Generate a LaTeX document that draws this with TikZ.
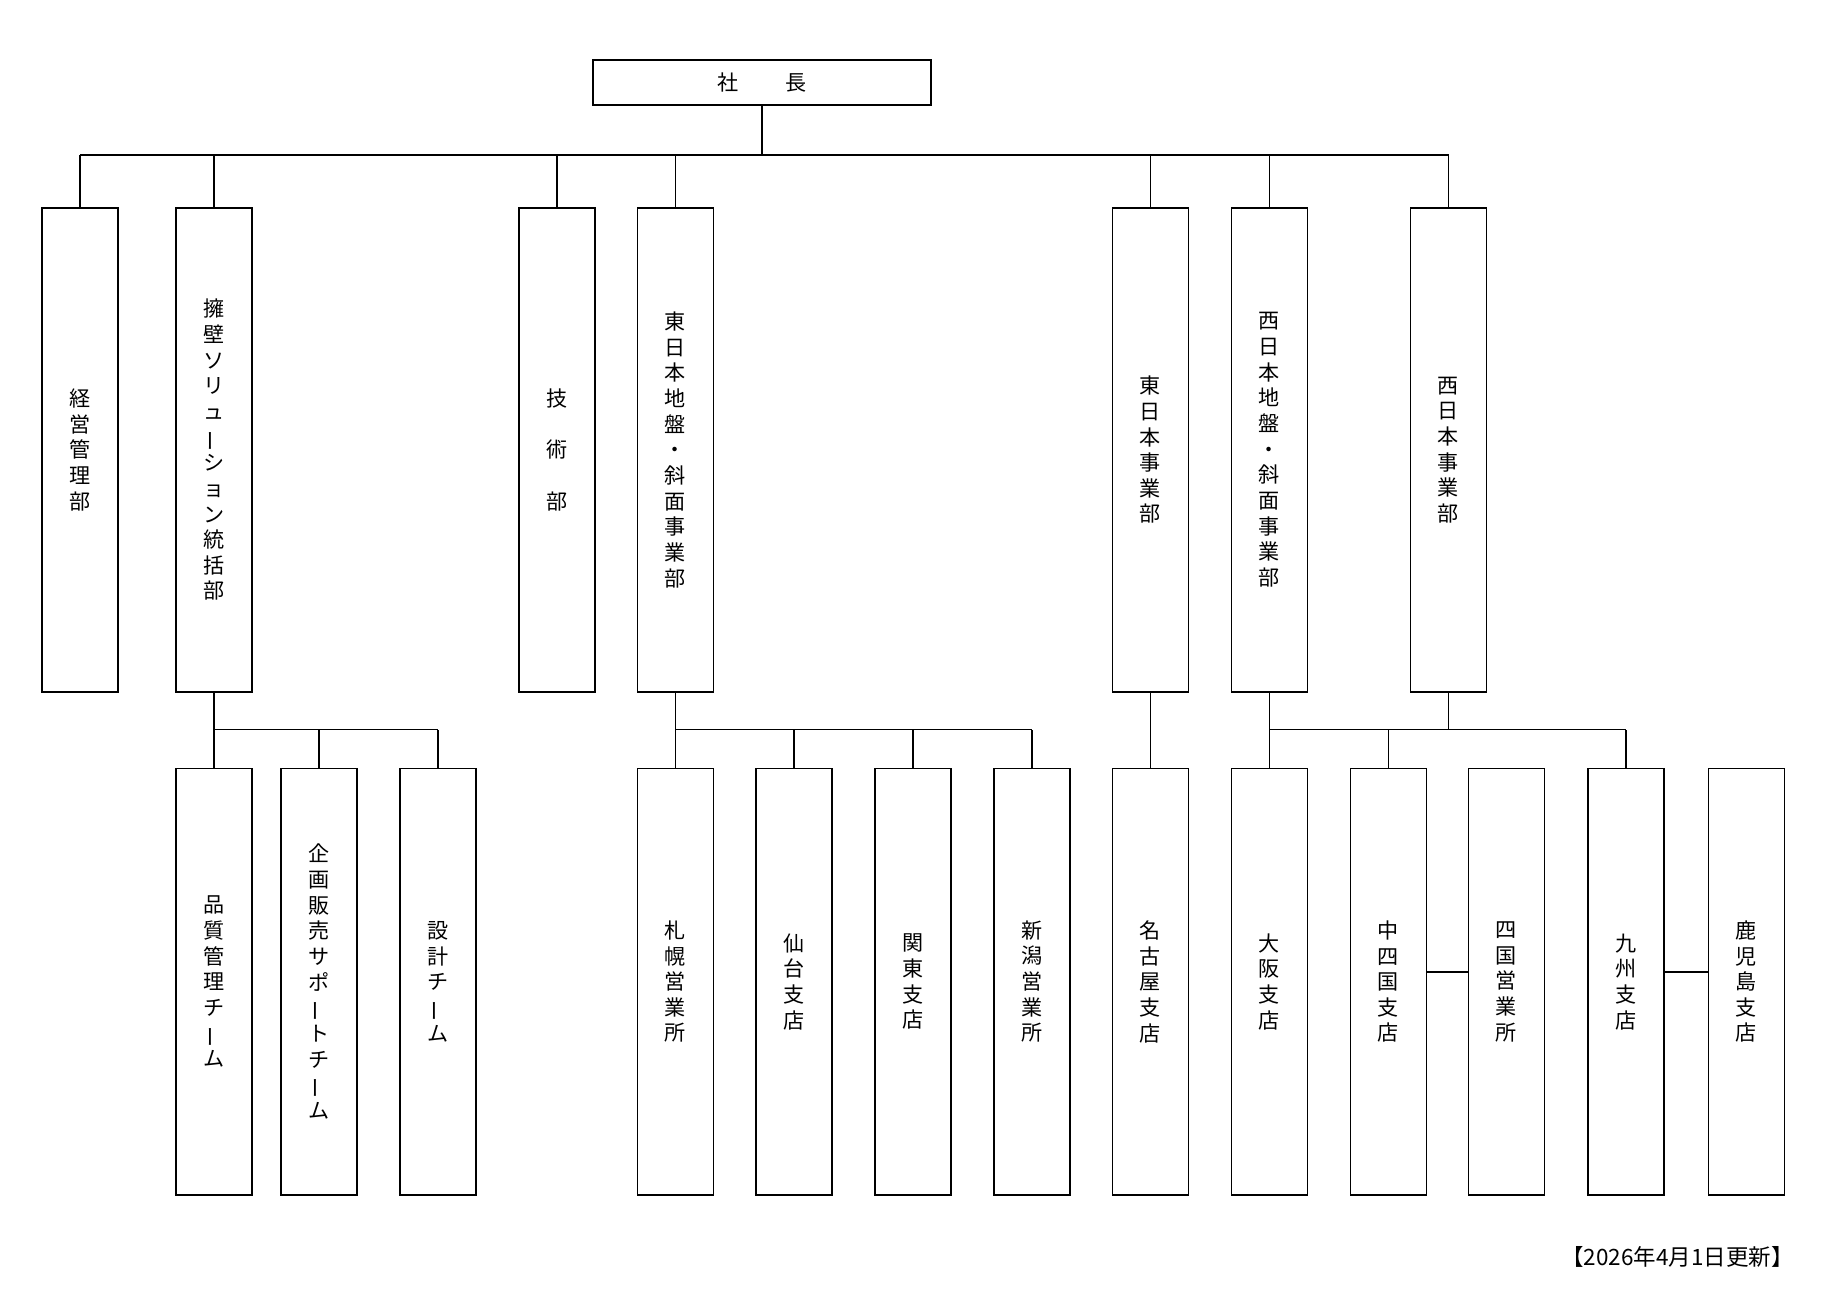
\documentclass[tikz,border=0pt]{standalone}
\usepackage{fontspec}
\setmainfont{Noto Sans CJK JP}
\usepackage{graphicx}

\newcommand\tatebo{\rotatebox[origin=c]{90}{ー}}

\tikzset{
  unit/.style={draw, line width=1.1pt, inner sep=0pt, align=center,
    font=\fontsize{12}{14.6}\selectfont},
  bu/.style={unit, anchor=north, minimum width=1.52cm, minimum height=9.69cm},
  ka/.style={unit, anchor=north, minimum width=1.52cm, minimum height=8.53cm},
  link/.style={line width=0.95pt},
}

\begin{document}
\begin{tikzpicture}[x=0.02cm, y=-0.02cm]
\useasboundingbox (0,0) rectangle (1832,1308);

\node[unit, minimum width=6.77cm, minimum height=0.9cm] (shacho) at (762,82.2) {社\hspace{2.2em}長};

% bu
\node[bu] (keiei) at (80,206.7) {経\\営\\管\\理\\部};
\node[bu] (yoheki) at (213.8,206.7) {擁\\壁\\ソ\\リ\\ュ\\\tatebo\\シ\\ョ\\ン\\統\\括\\部};
\node[bu] (gijutsu) at (556.7,206.7) {技\\[14.6pt]術\\[14.6pt]部};
\node[bu] (higashiban) at (675.5,206.7) {東\\日\\本\\地\\盤\\・\\斜\\面\\事\\業\\部};
\node[bu] (higashijig) at (1150.5,206.7) {東\\日\\本\\事\\業\\部};
\node[bu] (nishiban) at (1269.5,206.7) {西\\日\\本\\地\\盤\\・\\斜\\面\\事\\業\\部};
\node[bu] (nishijig) at (1448.5,206.7) {西\\日\\本\\事\\業\\部};

% teams, shiten
\foreach \n/\x/\t in {hinshitsu/213.8/{品\\質\\管\\理\\チ\\\tatebo\\ム},
  kikaku/318.9/{企\\画\\販\\売\\サ\\ポ\\\tatebo\\ト\\チ\\\tatebo\\ム},
  sekkei/438/{設\\計\\チ\\\tatebo\\ム},
  sapporo/675.5/{札\\幌\\営\\業\\所}, sendai/794/{仙\\台\\支\\店},
  kanto/913/{関\\東\\支\\店}, niigata/1032/{新\\潟\\営\\業\\所},
  nagoya/1150.5/{名\\古\\屋\\支\\店}, osaka/1269.5/{大\\阪\\支\\店},
  chushikoku/1388.5/{中\\四\\国\\支\\店}, shikoku/1506.5/{四\\国\\営\\業\\所},
  kyushu/1626/{九\\州\\支\\店}, kagoshima/1746.5/{鹿\\児\\島\\支\\店}}
  \node[ka] (\n) at (\x,767.5) {\t};

\coordinate (top) at (0,155);
\coordinate (mid) at (0,729.5);
\coordinate (side) at (0,972);

\draw[link] (shacho.south) -- (shacho.south |- top);
\draw[link, line width=1.3pt] (keiei.north |- top) -- (nishijig.north |- top);
\foreach \n in {keiei,yoheki,gijutsu,higashiban,higashijig,nishiban,nishijig}
  \draw[link] (\n.north) -- (\n.north |- top);

\draw[link] (yoheki.south) -- (hinshitsu.north);
\draw[link] (yoheki.south |- mid) -- (sekkei.north |- mid);
\foreach \n in {kikaku,sekkei}
  \draw[link] (\n.north) -- (\n.north |- mid);

\draw[link] (higashiban.south) -- (sapporo.north);
\draw[link] (sapporo.north |- mid) -- (niigata.north |- mid);
\foreach \n in {sendai,kanto,niigata}
  \draw[link] (\n.north) -- (\n.north |- mid);

\draw[link] (higashijig.south) -- (nagoya.north);

\draw[link] (nishiban.south) -- (osaka.north);
\draw[link] (osaka.north |- mid) -- (kyushu.north |- mid);
\draw[link] (nishijig.south) -- (nishijig.south |- mid);
\foreach \n in {chushikoku,kyushu}
  \draw[link] (\n.north) -- (\n.north |- mid);

\draw[link] (chushikoku.east |- side) -- (shikoku.west |- side);
\draw[link] (kyushu.east |- side) -- (kagoshima.west |- side);

\node[anchor=east, font=\fontsize{12.8}{14}\selectfont] (koushin) at (1800,1256.5) {【2026年4月1日更新】};
\end{tikzpicture}
\end{document}
